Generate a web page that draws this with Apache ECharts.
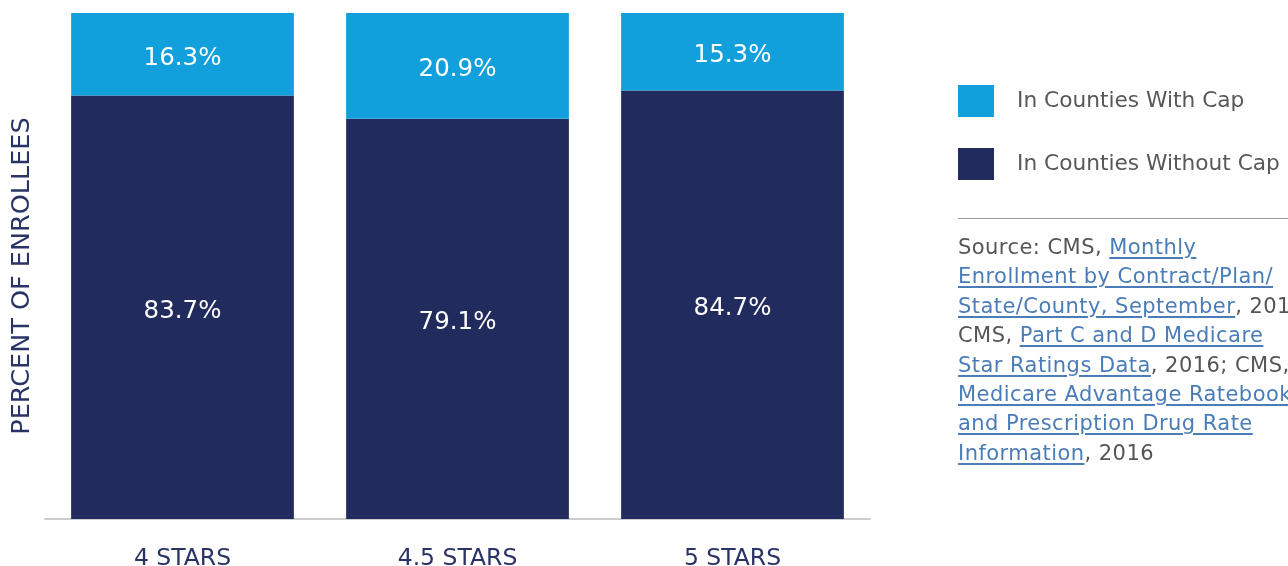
<!DOCTYPE html>
<html>
<head>
<meta charset="utf-8">
<script src="https://cdn.jsdelivr.net/npm/echarts@6/dist/echarts.min.js"></script>
<style>
  html, body { margin: 0; padding: 0; background: #fff; }
  #chart { width: 1288px; height: 566px; position: absolute; left: 0; top: 0; }
  #sep { position: absolute; left: 958px; top: 218px; width: 330px; height: 0; border-top: 1px solid #999; }
  #source { position: absolute; left: 958px; top: 233px; width: 330px; overflow: hidden; white-space: nowrap;
    font-family: "DejaVu Sans", sans-serif; font-size: 21px; letter-spacing: 0.45px; line-height: 29.4px; color: #555; }
  #source a { color: #4a7db8; text-decoration: underline; text-underline-offset: 3px; }
</style>
</head>
<body>
<div id="chart"></div>
<div id="sep"></div>
<div id="source">Source: CMS, <a>Monthly </a><br><a>Enrollment by Contract/Plan/</a><br><a>State/County, September</a>, 2016;<br>CMS, <a>Part C and D Medicare </a><br><a>Star Ratings Data</a>, 2016; CMS,<br><a>Medicare Advantage Ratebooks</a><br><a>and Prescription Drug Rate </a><br><a>Information</a>, 2016</div>
<script>
const categories = ["4 STARS", "4.5 STARS", "5 STARS"];
const withoutCap = [83.7, 79.1, 84.7];
const withCap = [16.3, 20.9, 15.3];
const seriesNames = ["In Counties With Cap", "In Counties Without Cap"];
const yTitle = "PERCENT OF ENROLLEES";

const FONT = "DejaVu Sans";
const chart = echarts.init(document.getElementById('chart'));
const labelStyle = {
  show: true, position: 'inside', color: '#fff', fontFamily: FONT, fontSize: 24.5,
  offset: [0, 4],
  formatter: p => p.value.toFixed(1) + '%'
};
chart.setOption({
  animation: false,
  grid: { left: 45, right: 418, top: 13, bottom: 47, containLabel: false, outerBoundsMode: 'none' },
  legend: {
    orient: 'vertical', left: 958, top: 85, padding: 0,
    itemWidth: 36, itemHeight: 32, itemGap: 31,
    icon: 'rect',
    data: [seriesNames[0], seriesNames[1]],
    textStyle: { fontFamily: FONT, fontSize: 21.7, color: '#585858', padding: [0, 0, 0, 18] },
    selectedMode: false
  },
  xAxis: {
    type: 'category', data: categories,
    axisLine: { show: true, lineStyle: { color: '#cccccc', width: 2 } },
    axisTick: { show: false },
    axisLabel: { color: '#2a3366', fontFamily: FONT, fontSize: 23.5, margin: 28 }
  },
  yAxis: {
    type: 'value', min: 0, max: 100,
    axisLine: { show: false }, axisTick: { show: false }, axisLabel: { show: false },
    splitLine: { show: false },
    name: yTitle, nameLocation: 'middle', nameGap: 10,
    nameTextStyle: { color: '#2a3366', fontFamily: FONT, fontSize: 25.5, padding: [0, 20, 0, 0] }
  },
  series: [
    {
      name: seriesNames[1], type: 'bar', stack: 'total', data: withoutCap,
      barWidth: '81%', itemStyle: { color: '#212b5e' }, label: labelStyle
    },
    {
      name: seriesNames[0], type: 'bar', stack: 'total', data: withCap,
      barWidth: '81%', itemStyle: { color: '#12a0dc' }, label: labelStyle
    }
  ]
});
</script>
</body>
</html>
